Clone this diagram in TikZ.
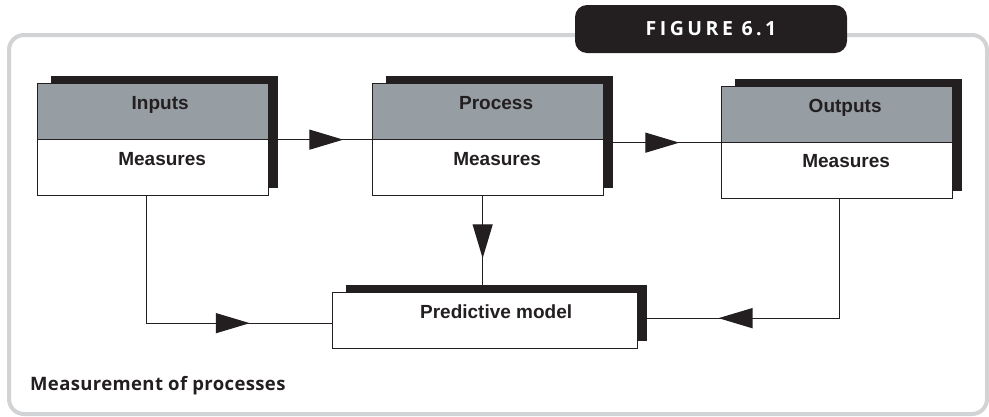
\documentclass[tikz,border=0pt]{standalone}
\usepackage{fontspec}
\setmainfont{Liberation Sans}
\newfontfamily\capfont[LetterSpace=2]{Open Sans}
\newfontfamily\figfont[LetterSpace=18]{Open Sans}
\usetikzlibrary{arrows.meta,decorations.markings,backgrounds,calc}
\definecolor{ink}{HTML}{231F20}
\definecolor{hdr}{HTML}{969DA3}
\definecolor{frm}{HTML}{D1D3D4}
\tikzset{
  framebox/.style={draw=frm, line width=4pt, rounded corners=15pt, minimum width=978pt, minimum height=379pt, anchor=north west, inner sep=0pt},
  figlabel/.style={fill=ink, rounded corners=12pt, minimum width=272pt, minimum height=48pt, inner sep=0pt, text=white, font=\figfont\bfseries\fontsize{19.5}{21}\selectfont},
  hbox/.style={draw=ink, line width=1.3pt, fill=white, minimum width=231pt, minimum height=112pt, anchor=north west, inner sep=0pt,
    path picture={\fill[hdr] (path picture bounding box.north west) rectangle (path picture bounding box.east);}},
  pbox/.style={draw=ink, line width=1.3pt, fill=white, minimum width=305pt, minimum height=56pt, anchor=north west, inner sep=0pt},
  lbl/.style={font=\bfseries\fontsize{19}{22}\selectfont, text=ink, anchor=base, inner sep=0pt},
  rule/.style={draw=ink, line width=1.3pt},
  conn/.style={draw=ink, line width=1.3pt},
  tipat/.style={postaction={decorate}, decoration={markings, mark=at position #1 with {\arrow{Triangle[length=34pt,width=20pt]}}}},
  caption/.style={font=\capfont\bfseries\fontsize{18.5}{21}\selectfont, text=ink, anchor=base west, inner sep=0pt}
}
\begin{document}
\begin{tikzpicture}[x=1pt,y=-1pt]
\useasboundingbox (0,0) rectangle (989,416);
\node[framebox] (frame) at (7,33) {};
\node[figlabel] (fig) at (711,29) {FIGURE 6.1};
\node[hbox] (in) at (37,83) {};
\node[hbox] (pr) at (372,83) {};
\node[hbox] (ou) at (721,86) {};
\node[pbox] (pm) at (332,292) {};
\foreach \n in {in,pr,ou} \draw[rule] (\n.west) -- (\n.east);
\begin{scope}[on background layer]
\foreach \n in {in,pr,ou,pm} \fill[ink] ($(\n.north west)+(14,-7)$) rectangle ($(\n.south east)+(9,-8.5)$);
\end{scope}
\node[lbl] (inT) at ($(in.north)+(7,26)$) {Inputs};
\node[lbl] (inM) at ($(in.north)+(9,82.5)$) {Measures};
\node[lbl] (prT) at ($(pr.north)+(8,26)$) {Process};
\node[lbl] (prM) at ($(pr.north)+(9,82.5)$) {Measures};
\node[lbl] (ouT) at ($(ou.north)+(8,26)$) {Outputs};
\node[lbl] (ouM) at ($(ou.north)+(9,81)$) {Measures};
\node[lbl] (pmT) at ($(pm.north)+(11,26)$) {Predictive model};
\node[caption] (cap) at (30,390) {Measurement of processes};
\draw[conn, tipat=74pt] (in.east) -- (pr.west);
\draw[conn, tipat=75pt] (pr.east |- ou.west) -- (ou.west);
\coordinate (inD) at ([xshift=-6.5pt]in.south);
\draw[conn, tipat=230pt] (inD) |- ([yshift=-2.5pt]pm.west);
\coordinate (prD) at ([xshift=-5.5pt]pr.south);
\draw[conn, tipat=62pt] (prD) -- (prD |- pm.north);
\draw[conn, tipat=240pt] ([xshift=2.5pt]ou.south) |- ([yshift=2.5pt]pm.east);
\end{tikzpicture}
\end{document}
